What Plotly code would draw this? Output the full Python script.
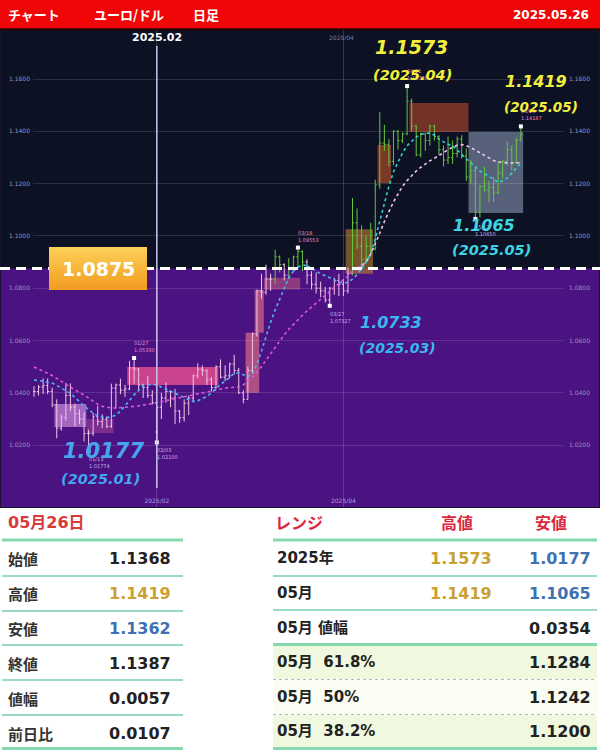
import pandas as pd
import plotly.graph_objects as go

W, H = 600, 754

# ---------------- data ----------------
HOLIDAYS = ["2024-12-25", "2025-01-01"]
dates = [d.strftime("%Y-%m-%d") for d in pd.bdate_range("2024-12-24", "2025-05-26")]
dates = [d for d in dates if d not in HOLIDAYS]

opens = [1.0405, 1.0405, 1.0422, 1.0428, 1.0405,
         1.0354, 1.0265, 1.0306, 1.0390, 1.0345, 1.0320, 1.0300, 1.0244, 1.0245, 1.0308,
         1.0290, 1.0300, 1.0272, 1.0418, 1.0430, 1.0410, 1.0415, 1.0495, 1.0490, 1.0430,
         1.0420, 1.0390,
         1.0250, 1.0345, 1.0380, 1.0405, 1.0380, 1.0330, 1.0305, 1.0360, 1.0380, 1.0465,
         1.0490, 1.0485, 1.0450, 1.0420, 1.0500, 1.0460, 1.0465, 1.0510, 1.0485, 1.0400,
         1.0375, 1.0485, 1.0625, 1.0790, 1.0785, 1.0835, 1.0835, 1.0920, 1.0890, 1.0850,
         1.0880, 1.0920, 1.0940, 1.0900, 1.0850, 1.0815, 1.0800, 1.0790, 1.0755, 1.0800,
         1.0830,
         1.0815, 1.0790, 1.0855, 1.1050, 1.0960, 1.0910, 1.0960, 1.0950, 1.1195, 1.1355,
         1.1350, 1.1285, 1.1400, 1.1365, 1.1390, 1.1515, 1.1420, 1.1310, 1.1390, 1.1365,
         1.1420, 1.1380,
         1.1330, 1.1290, 1.1300, 1.1315, 1.1370, 1.1305, 1.1225, 1.1250, 1.1090, 1.1190,
         1.1175, 1.1185, 1.1165, 1.1240, 1.1285, 1.1330, 1.1280, 1.1368]
highs = [1.0425, 1.0430, 1.0455, 1.0455, 1.0420,
         1.0375, 1.0317, 1.0437, 1.0436, 1.0359, 1.0336, 1.0325, 1.0259, 1.0323, 1.0350,
         1.0318, 1.0310, 1.0435, 1.0435, 1.0454, 1.0430, 1.0522, 1.0533, 1.0495, 1.0435,
         1.0465, 1.0410,
         1.0345, 1.0400, 1.0440, 1.0410, 1.0415, 1.0335, 1.0375, 1.0390, 1.0470, 1.0513,
         1.0505, 1.0490, 1.0460, 1.0505, 1.0528, 1.0505, 1.0515, 1.0545, 1.0495, 1.0410,
         1.0500, 1.0630, 1.0795, 1.0855, 1.0890, 1.0855, 1.0947, 1.0925, 1.0895, 1.0915,
         1.0925, 1.0955, 1.0945, 1.0910, 1.0865, 1.0860, 1.0825, 1.0805, 1.0805, 1.0840,
         1.0855,
         1.0835, 1.0880, 1.1145, 1.1105, 1.1040, 1.1000, 1.1050, 1.1215, 1.1473, 1.1425,
         1.1370, 1.1405, 1.1405, 1.1395, 1.1573, 1.1525, 1.1425, 1.1395, 1.1395, 1.1425,
         1.1425, 1.1385,
         1.1345, 1.1380, 1.1365, 1.1380, 1.1385, 1.1335, 1.1290, 1.1265, 1.1195, 1.1265,
         1.1210, 1.1225, 1.1285, 1.1290, 1.1360, 1.1345, 1.1375, 1.1419]
lows = [1.0385, 1.0390, 1.0395, 1.0395, 1.0345,
        1.0226, 1.0255, 1.0293, 1.0330, 1.0272, 1.0280, 1.0214, 1.0177, 1.0236, 1.0275,
        1.0265, 1.0265, 1.0266, 1.0340, 1.0395, 1.0385, 1.0410, 1.0435, 1.0405, 1.0380,
        1.0380, 1.0355,
        1.0210, 1.0300, 1.0362, 1.0345, 1.0280, 1.0285, 1.0290, 1.0315, 1.0368, 1.0455,
        1.0465, 1.0430, 1.0405, 1.0415, 1.0455, 1.0445, 1.0455, 1.0470, 1.0395, 1.0360,
        1.0375, 1.0475, 1.0615, 1.0760, 1.0775, 1.0790, 1.0815, 1.0860, 1.0830, 1.0835,
        1.0870, 1.0880, 1.0865, 1.0815, 1.0795, 1.0780, 1.0765, 1.0745, 1.0733, 1.0775,
        1.0770,
        1.0770, 1.0780, 1.0850, 1.0950, 1.0880, 1.0895, 1.0930, 1.0945, 1.1180, 1.1325,
        1.1265, 1.1270, 1.1330, 1.1355, 1.1385, 1.1400, 1.1305, 1.1300, 1.1325, 1.1345,
        1.1365, 1.1310,
        1.1265, 1.1275, 1.1275, 1.1300, 1.1295, 1.1210, 1.1200, 1.1065, 1.1070, 1.1170,
        1.1130, 1.1130, 1.1160, 1.1220, 1.1270, 1.1250, 1.1275, 1.1362]
closes = [1.0405, 1.0422, 1.0428, 1.0405, 1.0354,
          1.0265, 1.0306, 1.0390, 1.0345, 1.0320, 1.0300, 1.0244, 1.0245, 1.0308, 1.0290,
          1.0300, 1.0272, 1.0418, 1.0430, 1.0410, 1.0415, 1.0495, 1.0490, 1.0430, 1.0420,
          1.0390, 1.0362,
          1.0345, 1.0380, 1.0405, 1.0380, 1.0330, 1.0305, 1.0360, 1.0380, 1.0465, 1.0490,
          1.0485, 1.0450, 1.0420, 1.0500, 1.0460, 1.0465, 1.0510, 1.0485, 1.0400, 1.0375,
          1.0485, 1.0625, 1.0790, 1.0785, 1.0835, 1.0835, 1.0920, 1.0890, 1.0850, 1.0880,
          1.0920, 1.0940, 1.0900, 1.0850, 1.0815, 1.0800, 1.0790, 1.0755, 1.0800, 1.0830,
          1.0815,
          1.0790, 1.0855, 1.1050, 1.0960, 1.0910, 1.0960, 1.0950, 1.1195, 1.1355, 1.1350,
          1.1285, 1.1400, 1.1365, 1.1390, 1.1515, 1.1420, 1.1310, 1.1390, 1.1365, 1.1420,
          1.1380, 1.1330,
          1.1290, 1.1300, 1.1315, 1.1370, 1.1305, 1.1225, 1.1250, 1.1090, 1.1190, 1.1175,
          1.1185, 1.1165, 1.1240, 1.1285, 1.1330, 1.1280, 1.1365, 1.1387]

ma_fast = [1.0449, 1.0447, 1.0445, 1.0440, 1.0437, 1.0428, 1.0418, 1.0408, 1.0398, 1.0382,
           1.0365, 1.0350, 1.0336, 1.0322, 1.0312, 1.0307, 1.0306, 1.0307, 1.0315, 1.0330,
           1.0350, 1.0372, 1.0392, 1.0410, 1.0426, 1.0430, 1.0432, 1.0430, 1.0422, 1.0412,
           1.0403, 1.0395, 1.0388, 1.0380, 1.0372, 1.0366, 1.0370, 1.0378, 1.0386, 1.0400,
           1.0418, 1.0432, 1.0445, 1.0460, 1.0474, 1.0476, 1.0468, 1.0462, 1.0470, 1.0510,
           1.0560, 1.0620, 1.0670, 1.0717, 1.0760, 1.0800, 1.0840, 1.0865, 1.0880, 1.0889,
           1.0886, 1.0875, 1.0865, 1.0855, 1.0848, 1.0840, 1.0830, 1.0823, 1.0820, 1.0822,
           1.0835, 1.0852, 1.0875, 1.0900, 1.0930, 1.0990, 1.1060, 1.1130, 1.1190, 1.1245,
           1.1280, 1.1318, 1.1345, 1.1362, 1.1378, 1.1388, 1.1393, 1.1393, 1.1385, 1.1370,
           1.1360, 1.1350, 1.1345, 1.1330, 1.1312, 1.1295, 1.1279, 1.1262, 1.1248, 1.1238,
           1.1228, 1.1215, 1.1206, 1.1210, 1.1222, 1.1240, 1.1260, 1.1279]
ma_slow = [1.0499, 1.0492, 1.0485, 1.0475, 1.0466, 1.0455, 1.0443, 1.0432, 1.0420, 1.0410,
           1.0400, 1.0392, 1.0380, 1.0368, 1.0356, 1.0348, 1.0344, 1.0342, 1.0342, 1.0343,
           1.0345, 1.0346, 1.0348, 1.0350, 1.0353, 1.0356, 1.0359, 1.0361, 1.0365, 1.0370,
           1.0374, 1.0378, 1.0382, 1.0385, 1.0389, 1.0393, 1.0396, 1.0399, 1.0403, 1.0408,
           1.0412, 1.0416, 1.0418, 1.0420, 1.0421, 1.0422, 1.0430, 1.0445, 1.0460, 1.0480,
           1.0500, 1.0525, 1.0550, 1.0575, 1.0600, 1.0622, 1.0643, 1.0662, 1.0680, 1.0697,
           1.0713, 1.0728, 1.0743, 1.0758, 1.0773, 1.0790, 1.0805, 1.0820, 1.0835, 1.0848,
           1.0862, 1.0875, 1.0888, 1.0900, 1.0930, 1.0968, 1.1011, 1.1055, 1.1095, 1.1130,
           1.1160, 1.1190, 1.1212, 1.1232, 1.1248, 1.1262, 1.1275, 1.1287, 1.1297, 1.1306,
           1.1318, 1.1330, 1.1340, 1.1347, 1.1349, 1.1345, 1.1338, 1.1328, 1.1318, 1.1305,
           1.1295, 1.1288, 1.1283, 1.1280, 1.1279, 1.1279, 1.1279, 1.1280]

LEVEL = 1.0875
y_ticks = [1.02, 1.04, 1.06, 1.08, 1.10, 1.12, 1.14, 1.16]
y_tick_text = [f"{v:.4f}" for v in y_ticks]
x_tick_dates = ["2025-02-03", "2025-04-01"]
x_tick_text = ["2025/02", "2025/04"]
month_line_date = "2025-02-03"
month_line_text = "2025.02"

mark_dates = ["2025-01-13", "2025-01-27", "2025-02-03", "2025-03-18",
              "2025-03-27", "2025-04-21", "2025-05-12", "2025-05-26"]
mark_vals = [1.01774, 1.05330, 1.02100, 1.09553, 1.07327, 1.15730, 1.10650, 1.14187]
mark_is_high = [False, True, False, True, False, True, False, True]

zone_start = ["2025-01-02", "2025-01-13", "2025-01-24", "2025-03-03", "2025-03-05",
              "2025-03-07", "2025-04-02", "2025-04-11", "2025-04-22", "2025-05-09"]
zone_end = ["2025-01-10", "2025-01-20", "2025-02-20", "2025-03-05", "2025-03-06",
            "2025-03-18", "2025-04-09", "2025-04-15", "2025-05-08", "2025-05-26"]
zone_low = [1.0269, 1.0246, 1.0430, 1.0400, 1.0630, 1.0795, 1.0855, 1.1202, 1.1397, 1.1088]
zone_high = [1.0357, 1.0300, 1.0499, 1.0630, 1.0793, 1.0840, 1.1025, 1.1348, 1.1508, 1.1397]

callout_values = [1.1573, 1.1419, 1.1065, 1.0733, 1.0177]
callout_periods = ["2025.04", "2025.05", "2025.05", "2025.03", "2025.01"]

header_items = ["チャート", "ユーロ/ドル", "日足"]
header_date = "2025.05.26"

day_title = "05月26日"
day_labels = ["始値", "高値", "安値", "終値", "値幅", "前日比"]
day_values = [1.1368, 1.1419, 1.1362, 1.1387, 0.0057, 0.0107]

range_title = ["レンジ", "高値", "安値"]
range_labels = ["2025年", "05月", "05月 値幅", "05月  61.8%", "05月  50%", "05月  38.2%"]
range_high = [1.1573, 1.1419, None, None, None, None]
range_low = [1.0177, 1.1065, 0.0354, 1.1284, 1.1242, 1.1200]

# ---------------- styles / geometry ----------------
Y_RANGE = [0.99633, 1.17874]
Y_DOM = [1 - 507 / H, 1 - 30 / H]
X_DOM = [33 / W, 563 / W]
X_RANGE = [-0.22, 116.26]

NAVY = "#0c1124"
PURPLE = "#4b1282"
GREEN_BAR = "#66c640"
PINK_BAR = "#f2c6e6"
CYAN_HI = "#2fd3d0"
CYAN_LO = "#4ab6f2"
PINK_HI = "#f2c4ee"
PINK_LO = "#e055d6"
GOLD = "#c9a032"
BLUE = "#3f70b2"
DARK = "#222222"
RED_T = "#d9283c"
TABLE_GREEN = "#86d8ae"

zone_colors = ["rgba(222,160,232,0.60)", "rgba(235,110,180,0.30)", "rgba(238,82,145,0.78)",
               "rgba(240,120,135,0.60)", "rgba(240,120,135,0.60)", "rgba(240,120,120,0.40)",
               "rgba(205,140,50,0.55)", "rgba(170,72,42,0.70)", "rgba(150,62,40,0.75)",
               "rgba(180,198,228,0.45)"]
callout_style = [  # (value x, value y, value size, period x, period y, period size, color)
    (411, 47, 19, 412, 75, 14.5, "#f3f03c"),
    (536, 82, 16, 541, 107, 13.5, "#f3f03c"),
    (484, 225, 16, 492, 250, 14.5, "#3ad6e2"),
    (391, 323, 16, 397, 348, 14, "#3bb6ee"),
    (103, 451, 21, 100, 479, 14.5, "#45a6ee"),
]


def px(x):
    return x / W


def py(y):
    return 1 - y / H


def v2p(v):
    return Y_DOM[0] + (v - Y_RANGE[0]) / (Y_RANGE[1] - Y_RANGE[0]) * (Y_DOM[1] - Y_DOM[0])


def split_by_level(vals, level):
    lo = [v if v <= level else None for v in vals]
    hi = [v if v > level else None for v in vals]
    for i in range(1, len(vals)):
        if (vals[i - 1] <= level) != (vals[i] <= level):
            lo[i - 1], lo[i] = vals[i - 1], vals[i]
            hi[i - 1], hi[i] = vals[i - 1], vals[i]
    return lo, hi


fig = go.Figure()

# OHLC bars: pale in purple zone, green in dark zone
for is_green, col in [(False, PINK_BAR), (True, GREEN_BAR)]:
    idx = [i for i, c in enumerate(closes) if (c >= LEVEL) == is_green]
    fig.add_trace(go.Ohlc(
        x=[dates[i] for i in idx], open=[opens[i] for i in idx], high=[highs[i] for i in idx],
        low=[lows[i] for i in idx], close=[closes[i] for i in idx],
        increasing=dict(line=dict(color=col, width=1)),
        decreasing=dict(line=dict(color=col, width=1)),
        tickwidth=0.35, hoverinfo="skip", showlegend=False))

for vals, c_lo, c_hi in [(ma_slow, PINK_LO, PINK_HI), (ma_fast, CYAN_LO, CYAN_HI)]:
    lo, hi = split_by_level(vals, LEVEL)
    for seg, col in [(lo, c_lo), (hi, c_hi)]:
        fig.add_trace(go.Scatter(x=dates, y=seg, mode="lines", connectgaps=False,
                                 line=dict(color=col, width=1.6, dash="dot"),
                                 hoverinfo="skip", showlegend=False))

fig.add_trace(go.Scatter(x=mark_dates, y=mark_vals, mode="markers",
                         marker=dict(symbol="square", size=4, color="white"),
                         hoverinfo="skip", showlegend=False))
fig.add_trace(go.Scatter(x=[dates[0]], y=[closes[0]], yaxis="y2", mode="markers",
                         marker=dict(opacity=0), hoverinfo="skip", showlegend=False))

shapes = []


def rect_px(x0, y0, x1, y1, fill, layer="below", line=None):
    shapes.append(dict(type="rect", xref="paper", yref="paper", x0=px(x0), x1=px(x1),
                       y0=py(y1), y1=py(y0), fillcolor=fill,
                       line=line or dict(width=0), layer=layer))


def hline_px(x0, x1, y, color, width, dash="solid", layer="above"):
    shapes.append(dict(type="line", xref="paper", yref="paper", x0=px(x0), x1=px(x1),
                       y0=py(y), y1=py(y), line=dict(color=color, width=width, dash=dash),
                       layer=layer))


# chart backgrounds
rect_px(0, 28, 600, 508, "#1a1030")
rect_px(1, 30, 599, 507, NAVY)
shapes.append(dict(type="rect", xref="paper", yref="paper", x0=px(1), x1=px(599),
                   y0=py(507), y1=v2p(LEVEL), fillcolor=PURPLE, line=dict(width=0),
                   layer="below"))
# header
rect_px(0, 0, 600, 28.5, "#f00606")
rect_px(0, 28.5, 600, 30.5, "#2a0404")

# zones
for s, e, lo, hi, col in zip(zone_start, zone_end, zone_low, zone_high, zone_colors):
    shapes.append(dict(type="rect", xref="x", yref="y", x0=s, x1=e, x0shift=-0.5, x1shift=0.5,
                       y0=lo, y1=hi, fillcolor=col, line=dict(width=0), layer="below"))

# month line
shapes.append(dict(type="line", xref="x", yref="paper", x0=month_line_date, x1=month_line_date,
                   y0=py(488), y1=py(46), line=dict(color="#c8c6ee", width=1.5), layer="above"))

# level dashed line
shapes.append(dict(type="line", xref="paper", yref="paper", x0=0, x1=1, y0=v2p(LEVEL),
                   y1=v2p(LEVEL), line=dict(color="white", width=3, dash="10px,6px"),
                   layer="above"))
# level label box (vertical gradient, stacked so no seams)
n = 12
top_c, bot_c = (253, 206, 86), (242, 158, 34)
yc = v2p(LEVEL)
hh = 21.5 / H
for k in range(n):
    t = k / (n - 1)
    c = tuple(round(top_c[j] + (bot_c[j] - top_c[j]) * t) for j in range(3))
    shapes.append(dict(type="rect", xref="paper", yref="paper", x0=px(49), x1=px(147),
                       y0=yc - hh, y1=yc + hh - 2 * hh * k / n,
                       fillcolor=f"rgb{c}", line=dict(width=0), layer="above"))

# ---- tables ----
# left
hline_px(2, 183, 540, TABLE_GREEN, 3)
for y in [576, 611, 645, 680, 715]:
    hline_px(2, 183, y, "#9adcc0", 2)
hline_px(2, 183, 748.5, TABLE_GREEN, 3)
# right
rect_px(273, 646, 597, 679, "#f0f8e0")
rect_px(273, 680, 597, 714, "#fafdf2")
rect_px(273, 715, 597, 747, "#f0f8e0")
hline_px(273, 597, 540, TABLE_GREEN, 3)
for y in [576, 610]:
    hline_px(273, 597, y, "#9adcc0", 2)
hline_px(273, 597, 644.5, TABLE_GREEN, 3)
for y in [679.5, 714.5]:
    hline_px(273, 597, y, "#b8b8b8", 1, dash="dot")
hline_px(273, 597, 748.5, TABLE_GREEN, 3)

annotations = []
NUMF = "DejaVu Sans"
JPF = "Noto Sans CJK JP"
MIXF = "DejaVu Sans, Noto Sans CJK JP"


def ann(text, x, y, size, color, xanchor="center", family=NUMF, yanchor="middle"):
    annotations.append(dict(text=text, x=px(x), y=py(y), xref="paper", yref="paper",
                            xanchor=xanchor, yanchor=yanchor, showarrow=False,
                            font=dict(size=size, color=color, family=family)))


# tiny high/low marker labels (drawn first so the big callouts sit on top)
for d, v, hi in zip(mark_dates, mark_vals, mark_is_high):
    annotations.append(dict(text=f"{d[5:7]}/{d[8:10]}<br>{v:.5f}", x=d, y=v, xref="x", yref="y",
                            xanchor="left", yanchor="bottom" if hi else "top",
                            yshift=3 if hi else -3, xshift=-2, showarrow=False, align="left",
                            font=dict(size=5, color="#f08ac8" if hi else "#c8b0e8",
                                      family=NUMF)))

# header
for t, x in zip(header_items, [6, 92, 191]):
    ann(f"<b>{t}</b>", x, 15, 13, "white", "left", JPF)
ann(f"<b>{header_date}</b>", 591, 15, 12, "white", "right", NUMF)

# chart labels
ann(f"<b>{month_line_text}</b>", 157, 37, 11, "white")
ann(x_tick_text[1], 341, 37, 6, "#7d8296")
annotations.append(dict(text=f"<b>{LEVEL:.4f}</b>", x=px(98), y=v2p(LEVEL), xref="paper",
                        yref="paper", showarrow=False, xanchor="center", yanchor="middle",
                        font=dict(size=19, color="white", family=NUMF)))
for v, p, st in zip(callout_values, callout_periods, callout_style):
    vx, vy, vs, qx, qy, qs, col = st
    ann(f"<b><i>{v:.4f}</i></b>", vx, vy, vs, col)
    ann(f"<b><i>({p})</i></b>", qx, qy, qs, col)

# left table text
ann(f"<b>{day_title}</b>", 6, 522, 16, "#d83a3a", "left", MIXF)
day_colors = [DARK, GOLD, BLUE, DARK, DARK, DARK]
for k, (lab, val, col) in enumerate(zip(day_labels, day_values, day_colors)):
    yy = 558 + 35 * k
    ann(f"<b>{lab}</b>", 6, yy, 15, "#333333", "left", JPF)
    ann(f"<b>{val:.4f}</b>", 173, yy, 16, col, "right", NUMF)

# right table text
ann(f"<b>{range_title[0]}</b>", 273, 522, 16, RED_T, "left", JPF)
ann(f"<b>{range_title[1]}</b>", 457, 522, 16, RED_T, "center", JPF)
ann(f"<b>{range_title[2]}</b>", 551, 522, 16, RED_T, "center", JPF)
range_rows_y = [558, 593, 628, 662, 697, 731]
for k, (lab, hv, lv) in enumerate(zip(range_labels, range_high, range_low)):
    yy = range_rows_y[k]
    ann(f"<b>{lab}</b>", 275, yy, 15, "#222222", "left", MIXF)
    if hv is not None:
        ann(f"<b>{hv:.4f}</b>", 494, yy, 16, GOLD, "right", NUMF)
    lc = BLUE if hv is not None else DARK
    ann(f"<b>{lv:.4f}</b>", 593, yy, 16, lc, "right", NUMF)

fig.update_layout(
    width=W, height=H, margin=dict(l=0, r=0, t=0, b=0),
    paper_bgcolor="white", plot_bgcolor="rgba(0,0,0,0)",
    showlegend=False, hovermode=False,
    shapes=shapes, annotations=annotations,
    xaxis=dict(domain=X_DOM, type="category", categoryorder="array", categoryarray=dates,
               range=X_RANGE, tickvals=x_tick_dates, ticktext=x_tick_text,
               ticklabelposition="inside", tickfont=dict(size=6, color="#b79ad8", family=NUMF),
               showgrid=True, gridcolor="rgba(255,255,255,0.16)", gridwidth=1,
               zeroline=False, showline=False, ticks="", rangeslider=dict(visible=False),
               anchor="y", fixedrange=True),
    yaxis=dict(domain=Y_DOM, range=Y_RANGE, tickvals=y_ticks, ticktext=y_tick_text,
               side="left", tickfont=dict(size=6, color="#9894b8", family=NUMF),
               gridcolor="rgba(255,255,255,0.13)", gridwidth=1, showline=False,
               zeroline=False, ticks="", ticklabelstandoff=2, fixedrange=True),
    yaxis2=dict(range=Y_RANGE, overlaying="y", side="right", anchor="x", tickvals=y_ticks,
                ticktext=y_tick_text, tickfont=dict(size=6, color="#9894b8", family=NUMF),
                showgrid=False, showline=False, zeroline=False, ticks="",
                ticklabelstandoff=5, fixedrange=True),
)

fig.write_html(
    "out.html",
    config={"displayModeBar": False, "staticPlot": True},
    post_script="document.body.style.margin='0';document.body.style.overflow='hidden';",
)
